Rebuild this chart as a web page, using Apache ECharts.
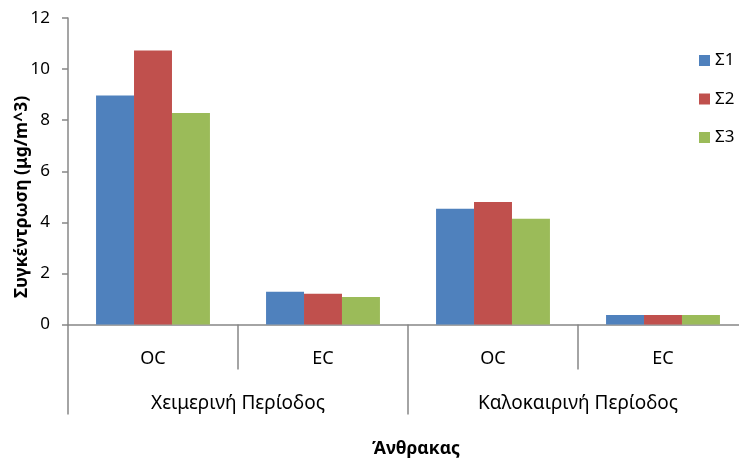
<!DOCTYPE html>
<html>
<head>
<meta charset="utf-8">
<script src="https://cdn.jsdelivr.net/npm/echarts@6/dist/echarts.min.js"></script>
<style>
  html, body { margin: 0; padding: 0; background: #fff; }
  #chart { width: 739px; height: 460px; }
</style>
</head>
<body>
<div id="chart"></div>
<script>
// Carbon fractions per sampling period (μg/m^3)
const categories = ['OC', 'EC', 'OC', 'EC'];
const periods = ['Χειμερινή Περίοδος', 'Καλοκαιρινή Περίοδος'];
const seriesNames = ['Σ1', 'Σ2', 'Σ3'];
const s1 = [8.97, 1.28, 4.53, 0.37];
const s2 = [10.73, 1.20, 4.80, 0.37];
const s3 = [8.28, 1.08, 4.14, 0.37];
const yTicks = { min: 0, max: 12, interval: 2 };

const FONT = '"Noto Sans", "DejaVu Sans", sans-serif';
const AXIS_GREY = '#878787';
const colors = ['#4F81BD', '#C0504D', '#9BBB59'];

const chart = echarts.init(document.getElementById('chart'), null, { renderer: 'canvas' });

const mkBar = (name, data, i) => ({
  name: name,
  type: 'bar',
  xAxisIndex: 0,
  data: data,
  barGap: '0%',
  barCategoryGap: '33%',
  itemStyle: { color: colors[i] },
  emphasis: { disabled: true }
});

chart.setOption({
  animation: false,
  textStyle: { fontFamily: FONT },
  grid: { left: 68, right: -9, top: 18, bottom: 135.5, containLabel: false, outerBoundsMode: 'none' },
  legend: {
    orient: 'vertical',
    left: 694,
    top: 47,
    icon: 'rect',
    itemWidth: 11,
    itemHeight: 11,
    itemGap: 21.5,
    textStyle: { fontFamily: FONT, fontSize: 17, color: '#000', lineHeight: 17 },
    data: seriesNames
  },
  xAxis: [
    {
      // inner level: carbon fraction
      type: 'category',
      data: categories,
      position: 'bottom',
      axisLine: { show: true, lineStyle: { color: AXIS_GREY, width: 1.5 } },
      axisTick: { show: true, length: 45, lineStyle: { color: AXIS_GREY, width: 1.5 } },
      axisLabel: { margin: 25, fontSize: 18, color: '#000', fontFamily: FONT },
      splitLine: { show: false }
    },
    {
      // outer level: sampling period
      type: 'category',
      data: periods,
      position: 'bottom',
      axisLine: { show: false },
      axisTick: { show: true, length: 90, lineStyle: { color: AXIS_GREY, width: 1.5 } },
      axisLabel: { margin: 70, fontSize: 19, color: '#000', fontFamily: FONT },
      splitLine: { show: false }
    }
  ],
  yAxis: {
    type: 'value',
    min: yTicks.min,
    max: yTicks.max,
    interval: yTicks.interval,
    axisLine: { show: true, lineStyle: { color: AXIS_GREY, width: 1.5 } },
    axisTick: { show: true, length: 6, lineStyle: { color: AXIS_GREY, width: 1.5 } },
    axisLabel: { margin: 18, fontSize: 17, color: '#000', fontFamily: FONT },
    splitLine: { show: false }
  },
  graphic: [
    {
      type: 'text',
      x: 22,
      y: 197,
      rotation: Math.PI / 2,
      style: {
        text: 'Συγκέντρωση (μg/m^3)',
        font: 'bold 17.5px ' + FONT,
        fill: '#000',
        align: 'center',
        verticalAlign: 'middle'
      }
    },
    {
      type: 'text',
      x: 416,
      y: 449,
      style: {
        text: 'Άνθρακας',
        font: 'bold 17.5px ' + FONT,
        fill: '#000',
        align: 'center',
        verticalAlign: 'middle'
      }
    }
  ],
  series: [mkBar(seriesNames[0], s1, 0), mkBar(seriesNames[1], s2, 1), mkBar(seriesNames[2], s3, 2)]
});
</script>
</body>
</html>
